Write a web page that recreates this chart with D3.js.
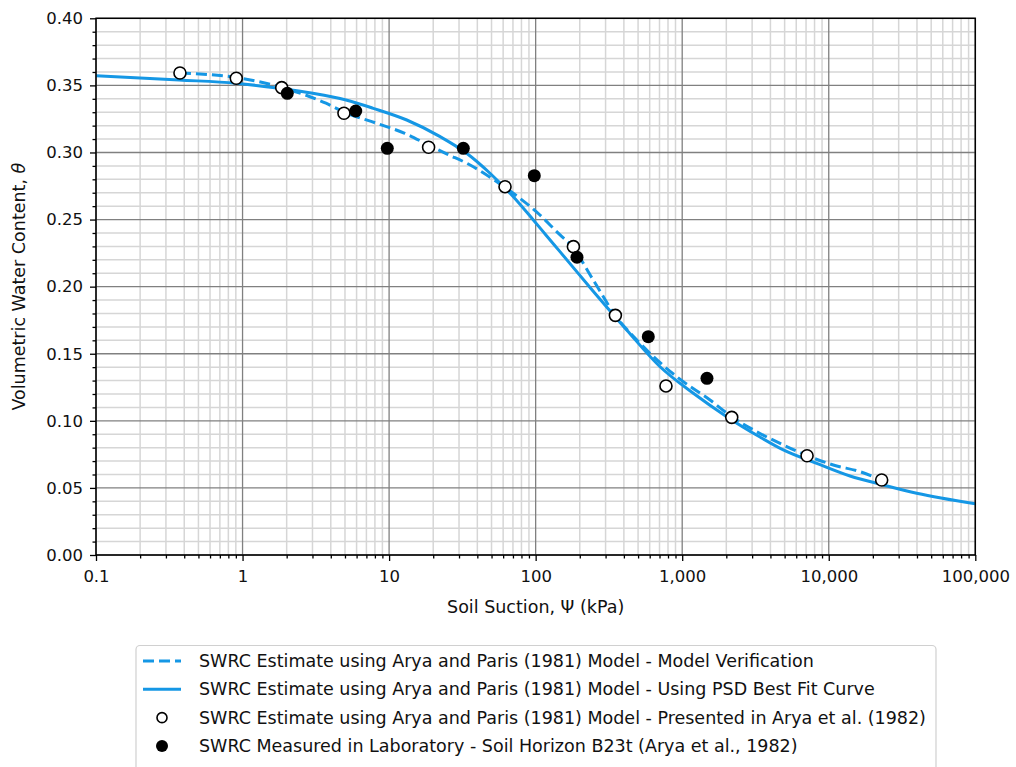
<!DOCTYPE html>
<html lang="en">
<head>
<meta charset="UTF-8" />
<title>SWRC</title>
<script src="https://cdn.jsdelivr.net/npm/d3@7"></script>
<style>
  body { margin: 0; background: #fff; }
  text { font-family: "DejaVu Sans", sans-serif; fill: #111; }
</style>
</head>
<body>
<script>
// tick labels
var xTicks = [0.1, 1, 10, 100, 1000, 10000, 100000];
var xTickLabels = ["0.1", "1", "10", "100", "1,000", "10,000", "100,000"];
var yTicks = [0, 0.05, 0.10, 0.15, 0.20, 0.25, 0.30, 0.35, 0.40];
var yTickLabels = ["0.00", "0.05", "0.10", "0.15", "0.20", "0.25", "0.30", "0.35", "0.40"];

// dashed - model verification
var verifPsi = [0.374, 0.902, 1.86, 3.71, 4.92, 8.23, 12.8, 18.5, 24.7, 34.7, 51.4, 60.8, 78.2, 107, 139, 179, 247, 348, 515, 917, 1548, 2177, 3224, 4897, 7140, 10740, 16340, 22970];
var verifTheta = [0.3592, 0.3559, 0.3484, 0.3367, 0.3302, 0.3217, 0.3143, 0.3056, 0.2989, 0.2914, 0.2800, 0.2745, 0.2658, 0.2534, 0.2410, 0.2293, 0.2050, 0.1789, 0.1578, 0.1329, 0.1155, 0.1031, 0.0919, 0.0820, 0.0740, 0.0671, 0.0621, 0.0559];

// solid - PSD best fit curve
var fitPsi = [0.1, 0.370, 0.902, 1.78, 3.01, 5.08, 7.80, 13.2, 22.3, 33.8, 48.8, 70.4, 96.4, 119, 147, 247, 418, 706, 1191, 2012, 3395, 4897, 8277, 13960, 23570, 39820, 100000];
var fitTheta = [0.3572, 0.3540, 0.3516, 0.3478, 0.3441, 0.3391, 0.3329, 0.3242, 0.3118, 0.2994, 0.2845, 0.2670, 0.2497, 0.2378, 0.2259, 0.1966, 0.1677, 0.1403, 0.1205, 0.1031, 0.0879, 0.0783, 0.0683, 0.0589, 0.0522, 0.0460, 0.0382];

// open circles - presented in Arya et al. (1982)
var aryaPsi = [0.374, 0.906, 1.85, 4.92, 18.6, 61.8, 181, 350, 775, 2178, 7112, 22970];
var aryaTheta = [0.3592, 0.3553, 0.3483, 0.3292, 0.3039, 0.2745, 0.2298, 0.1786, 0.1260, 0.1026, 0.0740, 0.0559];

// filled circles - measured in laboratory
var labPsi = [2.02, 5.92, 9.72, 32.1, 97.9, 191.5, 587, 1476];
var labTheta = [0.3441, 0.3309, 0.3031, 0.3031, 0.2827, 0.2219, 0.1627, 0.1317];

var legendLabels = [
  "SWRC Estimate using Arya and Paris (1981) Model - Model Verification",
  "SWRC Estimate using Arya and Paris (1981) Model - Using PSD Best Fit Curve",
  "SWRC Estimate using Arya and Paris (1981) Model - Presented in Arya et al. (1982)",
  "SWRC Measured in Laboratory - Soil Horizon B23t (Arya et al., 1982)"
];

var w = 1016, h = 767;
var pL = 96, pR = 975.3, pT = 18.3, pB = 555;
var blue = "#1597e5";

var svg = d3.select("body").append("svg").attr("width", w).attr("height", h);

var xScale = d3.scaleLog().domain([0.1, 100000]).range([pL, pR]);
var yScale = d3.scaleLinear().domain([0, 0.4]).range([pB, pT]);

// grid values
var xMinor = [];
for (var e = -1; e < 5; e++) {
  for (var k = 2; k <= 9; k++) xMinor.push(k * Math.pow(10, e));
}
var yMinor = d3.range(0, 41).map(function(i) { return i / 100; }).filter(function(v, i) { return i % 5 != 0; });

var grid = svg.append("g");
grid.selectAll(".xmin").data(xMinor).enter().append("line")
  .attr("x1", function(d) { return xScale(d); }).attr("x2", function(d) { return xScale(d); })
  .attr("y1", pT).attr("y2", pB)
  .attr("stroke", "#d6d6d6").attr("stroke-width", 1.5);
grid.selectAll(".ymin").data(yMinor).enter().append("line")
  .attr("y1", function(d) { return yScale(d); }).attr("y2", function(d) { return yScale(d); })
  .attr("x1", pL).attr("x2", pR)
  .attr("stroke", "#d6d6d6").attr("stroke-width", 1.5);
grid.selectAll(".xmaj").data(xTicks).enter().append("line")
  .attr("x1", function(d) { return xScale(d); }).attr("x2", function(d) { return xScale(d); })
  .attr("y1", pT).attr("y2", pB)
  .attr("stroke", "#808080").attr("stroke-width", 1.3);
grid.selectAll(".ymaj").data(yTicks).enter().append("line")
  .attr("y1", function(d) { return yScale(d); }).attr("y2", function(d) { return yScale(d); })
  .attr("x1", pL).attr("x2", pR)
  .attr("stroke", "#808080").attr("stroke-width", 1.3);

// curves
var line = d3.line()
  .x(function(d) { return xScale(d[0]); })
  .y(function(d) { return yScale(d[1]); })
  .curve(d3.curveMonotoneX);

svg.append("path")
  .datum(d3.zip(fitPsi, fitTheta))
  .attr("d", line)
  .attr("fill", "none").attr("stroke", blue).attr("stroke-width", 3);

svg.append("path")
  .datum(d3.zip(verifPsi, verifTheta))
  .attr("d", line)
  .attr("fill", "none").attr("stroke", blue).attr("stroke-width", 3)
  .attr("stroke-dasharray", "11,5");

svg.selectAll(".arya").data(d3.zip(aryaPsi, aryaTheta)).enter().append("circle")
  .attr("cx", function(d) { return xScale(d[0]); })
  .attr("cy", function(d) { return yScale(d[1]); })
  .attr("r", 6)
  .attr("fill", "#fff").attr("stroke", "#000").attr("stroke-width", 1.6);

svg.selectAll(".lab").data(d3.zip(labPsi, labTheta)).enter().append("circle")
  .attr("cx", function(d) { return xScale(d[0]); })
  .attr("cy", function(d) { return yScale(d[1]); })
  .attr("r", 6.5)
  .attr("fill", "#000");

// frame
svg.append("rect")
  .attr("x", pL).attr("y", pT)
  .attr("width", pR - pL).attr("height", pB - pT)
  .attr("fill", "none").attr("stroke", "#000").attr("stroke-width", 1.5);

// axes
var xAxis = d3.axisBottom(xScale)
  .tickValues(xTicks)
  .tickFormat(function(d, i) { return xTickLabels[i]; })
  .tickSize(6).tickPadding(9);
var gx = svg.append("g").attr("transform", "translate(0," + pB + ")").call(xAxis);
gx.select(".domain").remove();
gx.selectAll("text").style("font-size", "16.5px");

var gxm = svg.append("g").attr("transform", "translate(0," + pB + ")")
  .call(d3.axisBottom(xScale).tickValues(xMinor).tickFormat("").tickSize(3.5));
gxm.select(".domain").remove();

var yAxis = d3.axisLeft(yScale)
  .tickValues(yTicks)
  .tickFormat(function(d, i) { return yTickLabels[i]; })
  .tickSize(6).tickPadding(7);
var gy = svg.append("g").attr("transform", "translate(" + pL + ",0)").call(yAxis);
gy.select(".domain").remove();
gy.selectAll("text").style("font-size", "16.5px");

var gym = svg.append("g").attr("transform", "translate(" + pL + ",0)")
  .call(d3.axisLeft(yScale).tickValues(yMinor).tickFormat("").tickSize(3.5));
gym.select(".domain").remove();

svg.selectAll(".tick line").attr("stroke", "#000").attr("stroke-width", 1.3);
svg.selectAll(".tick text").attr("fill", "#111");

// axis titles
svg.append("text")
  .attr("x", (pL + pR) / 2).attr("y", 613)
  .attr("text-anchor", "middle").style("font-size", "17.5px")
  .text("Soil Suction, \u03A8 (kPa)");

var yl = svg.append("text")
  .attr("text-anchor", "middle").style("font-size", "17.5px")
  .attr("transform", "translate(25," + ((pT + pB) / 2) + ")rotate(-90)");
yl.append("tspan").text("Volumetric Water Content, ");
yl.append("tspan").style("font-style", "italic").text("\u03B8");

// legend
var lg = svg.append("g");
lg.append("rect")
  .attr("x", 136).attr("y", 645.5).attr("width", 800).attr("height", 140)
  .attr("rx", 4)
  .attr("fill", "#fff").attr("stroke", "#d0d0d0").attr("stroke-width", 1.2);

var rowY = d3.scalePoint().domain(d3.range(4)).range([661, 746]);
legendLabels.forEach(function(lab, i) {
  var y = rowY(i);
  if (i == 0) {
    lg.append("line").attr("x1", 143).attr("x2", 181).attr("y1", y).attr("y2", y)
      .attr("stroke", blue).attr("stroke-width", 3).attr("stroke-dasharray", "11,5");
  } else if (i == 1) {
    lg.append("line").attr("x1", 143).attr("x2", 181).attr("y1", y).attr("y2", y)
      .attr("stroke", blue).attr("stroke-width", 3);
  } else if (i == 2) {
    lg.append("circle").attr("cx", 162).attr("cy", y).attr("r", 5)
      .attr("fill", "#fff").attr("stroke", "#000").attr("stroke-width", 1.6);
  } else {
    lg.append("circle").attr("cx", 162).attr("cy", y).attr("r", 6).attr("fill", "#000");
  }
  lg.append("text").attr("x", 199).attr("y", y).attr("dy", "0.35em")
    .style("font-size", "17.5px").text(lab);
});
</script>
</body>
</html>
